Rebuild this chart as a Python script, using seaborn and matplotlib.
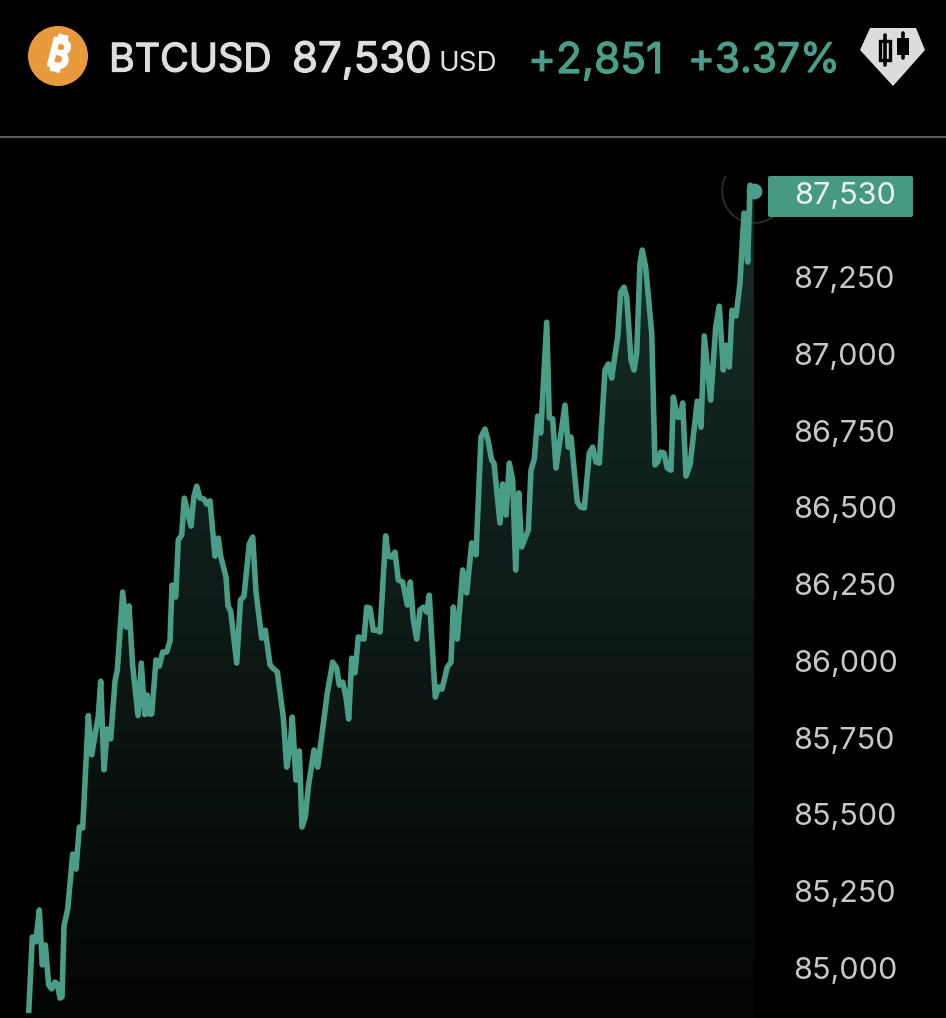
import matplotlib
matplotlib.use('Agg')
import matplotlib.patheffects as pe
import matplotlib.pyplot as plt
import numpy as np
import pandas as pd
import seaborn as sns
from matplotlib.colors import LinearSegmentedColormap
from matplotlib.lines import Line2D
from matplotlib.patches import Circle, FancyBboxPatch, Polygon, Rectangle

# chart values
symbol = 'BTCUSD'
last_price = '87,530'
currency = 'USD'
change_abs = '+2,851'
change_pct = '+3.37%'
price_ticks = [85000, 85250, 85500, 85750, 86000, 86250, 86500, 86750, 87000, 87250]

elapsed = [28.7, 32.3, 35.7, 39.3, 42.3, 45.3, 48.7, 51.7, 55, 57.3, 60, 62, 64, 67.7, 72.7, 76, 79.3, 82.7,
           88.3, 91.7, 98.3, 100.7, 104, 107.3, 110.7, 115, 117.3, 122.7, 126, 129, 132.7, 138, 141.3, 144.7,
           147, 149.3, 151.7, 156, 159.3, 162.7, 166.7, 170, 172, 175.7, 178.3, 181.7, 184.3, 191, 194, 196.7,
           200, 204, 206.7, 210, 215, 218.3, 220.7, 226, 228, 230.7, 236.7, 240.5, 244, 249.3, 252.7, 256,
           261.7, 265.3, 270, 272.7, 277.3, 283.3, 286.7, 290, 292.3, 296, 299.3, 302, 305.3, 308.3, 314, 317.7,
           327.3, 332.7, 336.7, 339.3, 342.7, 346, 348.7, 351.7, 355, 358.3, 364, 366.7, 370, 373.3, 376.7, 380,
           385.7, 388.3, 391.7, 395, 398.3, 402.7, 407.3, 410.3, 413.3, 416.7, 420, 423.3, 426.7, 429.3, 431.7,
           435.3, 438.7, 442, 447.3, 451, 453.3, 457.3, 462.7, 466.7, 471.7, 476,
           481, 485, 488, 491.7, 494, 500, 502.7, 506, 509.3, 512.7, 515.7, 518.7, 521.7, 528.3, 531, 534.3,
           537.7, 540.7, 546.7, 549.3, 552.7, 556, 565, 568.3, 571, 577.3, 580.7, 584.3, 589.3, 592.7, 596,
           599.3, 605, 608.3, 611.7, 617.7, 620.7, 624, 626.7, 631, 634, 636.7, 640, 642.3, 645.7, 651.7, 655,
           657.7, 660.7, 664, 667.3, 671, 673.3, 677.3, 680.3, 682.7, 686, 690, 697.3, 701, 704.3, 710.7, 715.7,
           719.3, 723.3, 726, 729.3, 732, 736, 740, 744, 747.7, 750, 754]
prices = [84853, 85101, 85085, 85189, 85010, 85075, 84945, 84932, 84954, 84948, 84902, 84906, 85137, 85192, 85371,
          85322, 85459, 85456,
          85822, 85694, 85821, 85934, 85645, 85778, 85746, 85934, 85970, 86224, 86110, 86179, 85983, 85822, 85993,
          85825,
          85889, 85827, 85827, 86003, 85983, 86029, 86029, 86065, 86247, 86208, 86394, 86410, 86530, 86439, 86537,
          86569,
          86530, 86527, 86511, 86521, 86341, 86400, 86341, 86273, 86179, 86162, 85993, 86198, 86211, 86381, 86403,
          86224,
          86074, 86100, 85987, 85977, 85964, 85817, 85654, 85716, 85817, 85612, 85707, 85459, 85492, 85589, 85710,
          85654,
          85895, 85996, 85977, 85921, 85931, 85882, 85811, 86009, 85961, 86078, 86071, 86175, 86172, 86100, 86100,
          86094,
          86407, 86341, 86338, 86354, 86263, 86257, 86182, 86257, 86133, 86071, 86166, 86175, 86159, 86214, 86078,
          85882, 85915, 85908, 85980, 85996, 86175, 86071, 86296, 86221, 86384, 86345,
          86729, 86755, 86719, 86654, 86644, 86449, 86576, 86475, 86644, 86589, 86296, 86547, 86371, 86426, 86621,
          86657,
          86797, 86742, 87103, 86791, 86788, 86628, 86833, 86696, 86729, 86517, 86501, 86498, 86677, 86696, 86648,
          86644, 86947, 86967, 86921, 87055, 87201, 87217, 87185, 86980, 86947, 87002, 87295, 87338, 87282, 87068,
          86638,
          86648, 86680, 86677, 86628, 86621, 86859, 86794, 86794, 86840, 86602, 86638, 86846, 86761, 87058, 86849,
          87087,
          87155, 86947, 87028, 86957, 87142, 87123, 87230, 87458, 87299, 87549, 87530]

GREEN = '#4a9e88'
LIGHT = '#dedede'
TICK_GREY = '#c8c8c8'
FONT = ['Inter', 'DejaVu Sans']
WIDTH, HEIGHT = 946, 1018
CHART_TOP = 176
PX_PER_USD = 0.3071


def heavy(color, width=0.9):
    # Inter only comes in one weight here, thicken it with a stroke
    return [pe.withStroke(linewidth=width, foreground=color)]


sns.set_theme(style='dark')
plt.rcParams['font.family'] = FONT
plt.rcParams['axes.facecolor'] = 'black'
plt.rcParams['figure.facecolor'] = 'black'

fig = plt.figure(figsize=(WIDTH / 100, HEIGHT / 100), dpi=100)
ax = fig.add_axes([0, 0, 1, (HEIGHT - CHART_TOP) / HEIGHT])
ax.set_facecolor('black')

data = pd.DataFrame({'elapsed': elapsed, 'price': prices})

# 85,000 sits at pixel row 968, scale runs from there
y_top = 85000 + (968 - CHART_TOP) / PX_PER_USD
y_bottom = 85000 - (HEIGHT - 968) / PX_PER_USD
x_end = data['elapsed'].iloc[-1]

# gradient under the line, clipped to the area below it
area = ax.fill_between(data['elapsed'], data['price'], y_bottom, color='none', linewidth=0)
cmap = LinearSegmentedColormap.from_list('fade', ['#172e29', '#0e1b18', '#030504'])
img = ax.imshow(np.linspace(0, 1, 256).reshape(-1, 1), cmap=cmap, aspect='auto',
                extent=(0, x_end, y_bottom, y_top), origin='upper', zorder=1)
img.set_clip_path(area.get_paths()[0], transform=ax.transData)

sns.lineplot(data=data, x='elapsed', y='price', ax=ax, color=GREEN, linewidth=4.0, estimator=None,
             solid_joinstyle='round', solid_capstyle='butt', zorder=3)

# pulse ring and end dot
ax.scatter([x_end], [87530], s=2120, facecolor='none', edgecolor='#28332f', linewidth=1.2, zorder=2)
ax.scatter([x_end], [87530], s=130, color=GREEN, linewidth=0, zorder=4)

ax.set_xlim(0, WIDTH)
ax.set_ylim(y_bottom, y_top)
ax.set_xlabel('')
ax.set_ylabel('')
ax.set_xticks([])
ax.yaxis.tick_right()
ax.set_yticks(price_ticks)
ax.set_yticklabels(['{:,}'.format(p) for p in price_ticks])
ax.tick_params(axis='y', length=0, pad=-110, labelsize=22, labelcolor=TICK_GREY)
ax.grid(False)
for spine in ax.spines.values():
    spine.set_visible(False)

# header and overlays, drawn in pixel coordinates
top = fig.add_axes([0, 0, 1, 1])
top.set_xlim(0, WIDTH)
top.set_ylim(HEIGHT, 0)
top.axis('off')
top.patch.set_alpha(0)

top.add_patch(Circle((58, 56), 30, color='#e89a3c', linewidth=0))
top.text(58, 57, '\u20bf', color='white', fontsize=28, rotation=-14, ha='center', va='center',
         family=['Noto Sans', 'DejaVu Sans'], path_effects=heavy('white', 2.2))

top.text(109, 57, symbol, color=LIGHT, fontsize=28.3, va='center_baseline', path_effects=heavy(LIGHT))
top.text(292, 57, last_price, color=LIGHT, fontsize=30.2, va='center_baseline', path_effects=heavy(LIGHT))
top.text(438, 61, currency, color=LIGHT, fontsize=20, va='center_baseline')
top.text(528, 57, change_abs, color=GREEN, fontsize=30.5, va='center_baseline', path_effects=heavy(GREEN))
top.text(688, 57, change_pct, color=GREEN, fontsize=29.3, va='center_baseline', path_effects=heavy(GREEN))

# chart-type icon
top.add_patch(Polygon([(870, 28), (916, 28), (925, 50), (893, 86), (860, 50)], closed=True,
                      facecolor='#dcdcdc', edgecolor='none', joinstyle='round'))
top.add_line(Line2D([885, 885], [35, 65], color='black', linewidth=2.6))
top.add_patch(Rectangle((880, 41), 10, 19, facecolor='#dcdcdc', edgecolor='black', linewidth=2.4))
top.add_line(Line2D([903, 903], [33, 58], color='black', linewidth=2.6))
top.add_patch(Rectangle((897, 38), 12, 17, facecolor='black', edgecolor='black', linewidth=0))

top.add_line(Line2D([0, WIDTH], [137, 137], color='#5a5a5a', linewidth=1.5))

# price tag for the last value
top.add_patch(FancyBboxPatch((768, 176), 145, 41, boxstyle='round,pad=0,rounding_size=2', facecolor='#479a82',
                             edgecolor='none'))
top.text(845, 196, last_price, color='#f0f0f0', fontsize=22, ha='center', va='center')

fig.savefig('out.png', dpi=100, facecolor='black')
